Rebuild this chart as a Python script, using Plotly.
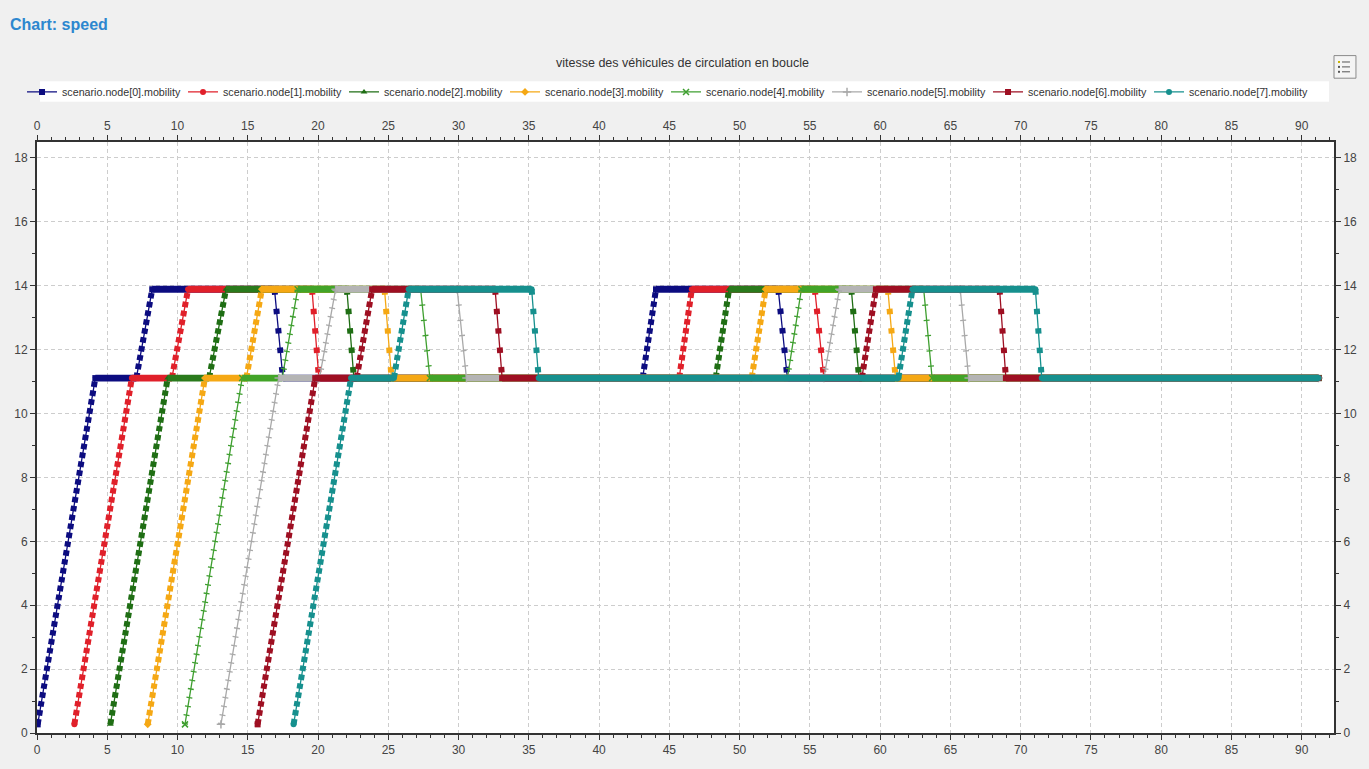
import plotly.graph_objects as go

# ---------------- data ----------------
NAMES = [
    "scenario.node[0].mobility", "scenario.node[1].mobility",
    "scenario.node[2].mobility", "scenario.node[3].mobility",
    "scenario.node[4].mobility", "scenario.node[5].mobility",
    "scenario.node[6].mobility", "scenario.node[7].mobility",
]

# breakpoints (time in s, speed in m/s) of every vehicle
T0 = [0.05, 4.15, 7.07, 8.20, 16.90, 17.50, 43.10, 44.05, 52.75, 53.40, 91.2]
V0 = [0.27, 11.11, 11.11, 13.89, 13.89, 11.11, 11.11, 13.89, 13.89, 11.11, 11.11]
T1 = [2.66, 6.75, 9.60, 10.75, 19.57, 20.06, 45.70, 46.60, 55.35, 56.00, 91.2]
V1 = [0.27, 11.11, 11.11, 13.89, 13.89, 11.11, 11.11, 13.89, 13.89, 11.11, 11.11]
T2 = [5.22, 9.30, 12.25, 13.45, 22.05, 22.55, 48.30, 49.25, 57.95, 58.50, 91.2]
V2 = [0.27, 11.11, 11.11, 13.89, 13.89, 11.11, 11.11, 13.89, 13.89, 11.11, 11.11]
T3 = [7.88, 11.95, 14.90, 16.00, 24.73, 25.23, 50.86, 51.85, 60.55, 61.10, 91.2]
V3 = [0.27, 11.11, 11.11, 13.89, 13.89, 11.11, 11.11, 13.89, 13.89, 11.11, 11.11]
T4 = [10.53, 14.60, 17.45, 18.55, 27.30, 27.96, 53.40, 54.40, 63.10, 63.70, 91.2]
V4 = [0.27, 11.11, 11.11, 13.89, 13.89, 11.11, 11.11, 13.89, 13.89, 11.11, 11.11]
T5 = [13.09, 17.20, 20.10, 21.25, 29.90, 30.56, 56.00, 57.10, 65.70, 66.30, 91.2]
V5 = [0.27, 11.11, 11.11, 13.89, 13.89, 11.11, 11.11, 13.89, 13.89, 11.11, 11.11]
T6 = [15.70, 19.80, 22.75, 23.85, 32.60, 33.10, 58.70, 59.70, 68.50, 68.95, 91.2]
V6 = [0.27, 11.11, 11.11, 13.89, 13.89, 11.11, 11.11, 13.89, 13.89, 11.11, 11.11]
T7 = [18.26, 22.35, 25.40, 26.45, 35.20, 35.70, 61.30, 62.30, 71.05, 71.50, 91.2]
V7 = [0.27, 11.11, 11.11, 13.89, 13.89, 11.11, 11.11, 13.89, 13.89, 11.11, 11.11]

TIMES = [T0, T1, T2, T3, T4, T5, T6, T7]
SPEEDS = [V0, V1, V2, V3, V4, V5, V6, V7]

X_TICKS = [0, 5, 10, 15, 20, 25, 30, 35, 40, 45, 50, 55, 60, 65, 70, 75, 80, 85, 90]
Y_TICKS = [0, 2, 4, 6, 8, 10, 12, 14, 16, 18]

# ---------------- styles ----------------
COLORS = ["#0c0c80", "#e0202a", "#1f6e14", "#f5a814", "#3f9f30", "#a9a9a9", "#9e0f22", "#16908e"]
BANDS = ["#0c0c80", "#e0202a", "#2a7a1c", "#f5a814", "#42a428", "#b4b4b4", "#9e0f22", "#16908e"]
SYMBOLS = ["square", "circle", "triangle-up", "diamond", "x-thin", "cross-thin", "square", "circle"]
THIN = [False, False, False, False, True, True, False, False]

W, H = 1369, 769
ML, MR, MT, MB = 37, 33, 142, 25
PW, PH = W - ML - MR, H - MT - MB


def px_x(px):
    return (px - ML) / PW


def px_y(py):
    return (H - MB - py) / PH


fig = go.Figure()

for i in range(8):
    t, v = TIMES[i], SPEEDS[i]
    fx, fy, rx, ry, dx, dy = [], [], [], [], [], []
    for a in range(len(t) - 1):
        xs, ys = [t[a], t[a + 1], None], [v[a], v[a + 1], None]
        if v[a + 1] == v[a]:
            fx += xs; fy += ys
        elif v[a + 1] > v[a]:
            rx += xs; ry += ys
        else:
            dx += xs; dy += ys
    col = COLORS[i]
    # main thin line (legend entry)
    fig.add_trace(go.Scatter(
        x=t, y=v, mode="lines+markers", name=NAMES[i],
        line=dict(color=col, width=1.3),
        marker=dict(symbol=SYMBOLS[i], size=6, color=col,
                    line=dict(color=col, width=1.5 if THIN[i] else 0)),
        hoverinfo="x+y+name"))
    # flat bands (dense markers)
    fig.add_trace(go.Scatter(
        x=fx, y=fy, mode="lines", showlegend=False, hoverinfo="skip",
        line=dict(color=BANDS[i], width=6.8)))
    # ramps: chain of markers
    if THIN[i]:
        rise_line = dict(color=col, width=6, dash="1.3px,7.5px")
        fall_line = dict(color=col, width=6, dash="1.3px,14px")
    else:
        rise_line = dict(color=col, width=6, dash="5.5px,3.5px")
        fall_line = dict(color=col, width=6, dash="5.5px,14px")
    fig.add_trace(go.Scatter(x=rx, y=ry, mode="lines", showlegend=False,
                             hoverinfo="skip", line=rise_line))
    fig.add_trace(go.Scatter(x=dx, y=dy, mode="lines", showlegend=False,
                             hoverinfo="skip", line=fall_line))

# dummy trace for the mirrored (top / right) axes
fig.add_trace(go.Scatter(x=[None], y=[None], xaxis="x2", yaxis="y2",
                         showlegend=False, hoverinfo="skip"))

X_RANGE = [0, 92.3]
Y_RANGE = [0, 18.5]
axis_common = dict(
    showline=True, linecolor="#333", linewidth=2,
    ticks="outside", ticklen=5, tickcolor="#333", tickwidth=1,
    tickfont=dict(size=12, color="#444"), zeroline=False,
)

fig.update_layout(
    width=W, height=H, autosize=False,
    margin=dict(l=ML, r=MR, t=MT, b=MB, pad=0),
    paper_bgcolor="#f0f0f0", plot_bgcolor="white",
    font=dict(family="Liberation Sans, Arial, sans-serif", size=12, color="#333"),
    legend=dict(orientation="h", x=px_x(22), xanchor="left", y=px_y(91), yanchor="middle",
                bgcolor="rgba(0,0,0,0)", font=dict(size=10.7, color="#333"),
                entrywidth=116, entrywidthmode="pixels", itemwidth=30, tracegroupgap=0),
    xaxis=dict(range=X_RANGE, tickmode="array", tickvals=X_TICKS,
               showgrid=True, gridcolor="#cdcdcd", griddash="4px,3px", gridwidth=1,
               minor=dict(ticks="outside", dtick=1, tick0=0, ticklen=3, tickcolor="#333", showgrid=False),
               **axis_common),
    yaxis=dict(range=Y_RANGE, tickmode="array", tickvals=Y_TICKS,
               showgrid=True, gridcolor="#cdcdcd", griddash="4px,3px", gridwidth=1,
               minor=dict(ticks="outside", dtick=1, tick0=0, ticklen=3, tickcolor="#333", showgrid=False),
               **axis_common),
    xaxis2=dict(range=X_RANGE, overlaying="x", side="top", anchor="y2", tickmode="array",
                tickvals=X_TICKS, showgrid=False,
                minor=dict(ticks="outside", dtick=1, tick0=0, ticklen=3, tickcolor="#333"),
                **axis_common),
    yaxis2=dict(range=Y_RANGE, overlaying="y", side="right", anchor="x2", tickmode="array",
                tickvals=Y_TICKS, showgrid=False,
                minor=dict(ticks="outside", dtick=1, tick0=0, ticklen=3, tickcolor="#333"),
                **axis_common),
    annotations=[
        dict(text="<b>Chart: speed</b>", xref="paper", yref="paper", x=px_x(8), y=px_y(22),
             xanchor="left", yanchor="middle", showarrow=False,
             font=dict(size=16, color="#2d87cf")),
        dict(text="vitesse des véhicules de circulation en boucle", xref="paper", yref="paper",
             x=px_x(683), y=px_y(62), xanchor="center", yanchor="middle", showarrow=False,
             font=dict(size=12.5, color="#333")),
    ],
    shapes=[
        dict(type="rect", xref="paper", yref="paper", x0=px_x(40), x1=px_x(1331),
             y0=px_y(101), y1=px_y(80), fillcolor="white", line=dict(width=0), layer="below"),
        dict(type="rect", xref="paper", yref="paper", x0=px_x(1336), x1=px_x(1358),
             y0=px_y(77), y1=px_y(54), fillcolor="#f4f4f4", line=dict(color="#8a8a8a", width=1)),
        dict(type="line", xref="paper", yref="paper", x0=px_x(1344), x1=px_x(1352),
             y0=px_y(60.5), y1=px_y(60.5), line=dict(color="#555", width=1)),
        dict(type="line", xref="paper", yref="paper", x0=px_x(1344), x1=px_x(1352),
             y0=px_y(65.5), y1=px_y(65.5), line=dict(color="#555", width=1)),
        dict(type="line", xref="paper", yref="paper", x0=px_x(1344), x1=px_x(1352),
             y0=px_y(70.5), y1=px_y(70.5), line=dict(color="#555", width=1)),
        dict(type="rect", xref="paper", yref="paper", x0=px_x(1340), x1=px_x(1342),
             y0=px_y(61.5), y1=px_y(59.5), fillcolor="#c9b400", line=dict(width=0)),
        dict(type="rect", xref="paper", yref="paper", x0=px_x(1340), x1=px_x(1342),
             y0=px_y(66.5), y1=px_y(64.5), fillcolor="#555", line=dict(width=0)),
        dict(type="rect", xref="paper", yref="paper", x0=px_x(1340), x1=px_x(1342),
             y0=px_y(71.5), y1=px_y(69.5), fillcolor="#555", line=dict(width=0)),
    ],
)

fig.write_html("out.html", config={"displayModeBar": False},
               post_script="document.body.style.margin='0';document.body.style.overflow='hidden';")
